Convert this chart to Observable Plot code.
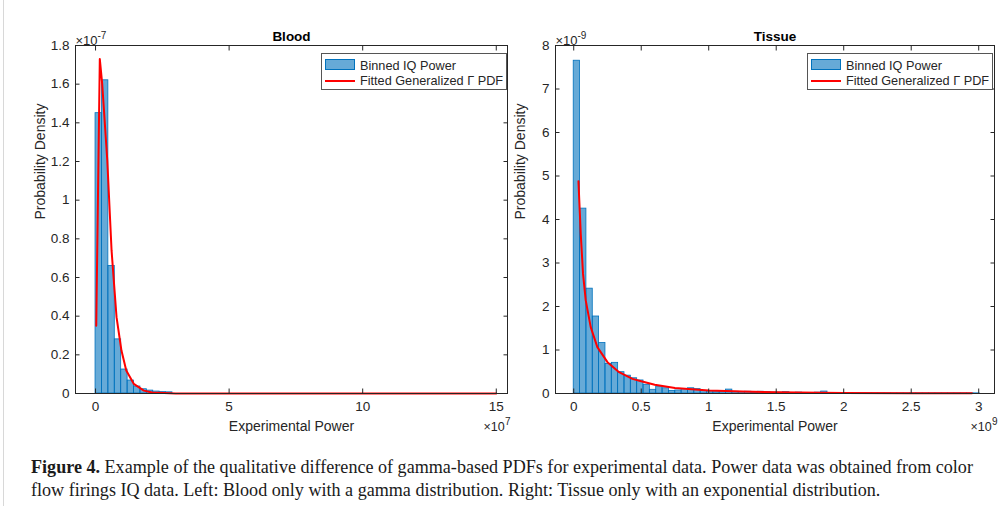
<!DOCTYPE html>
<html><head><meta charset="utf-8">
<script src="https://cdn.jsdelivr.net/npm/d3@7"></script>
<script src="https://cdn.jsdelivr.net/npm/@observablehq/plot@0.6"></script>
<style>
html,body{margin:0;padding:0;background:#fff;}
body{width:1007px;height:506px;overflow:hidden;position:relative;font-family:"Liberation Sans",Arial,sans-serif;}
#left{position:absolute;left:0;top:0;}
#right{position:absolute;left:480px;top:0;}
#border{position:absolute;left:3px;top:0;width:1px;height:506px;background:#d8d8d8;}
.legend{position:absolute;top:53px;width:184px;height:35px;border:1px solid #555;background:#fff;font-size:12.7px;color:#262626;}
.legend .row{position:absolute;left:3px;height:14px;}
.legend .sw{position:absolute;left:0;width:30px;}
.legend .lab{position:absolute;left:35px;white-space:nowrap;line-height:14px;}
#caption{position:absolute;left:31px;top:456px;width:975px;font-family:"Liberation Serif","Times New Roman",serif;font-size:18.1px;line-height:22.5px;color:#1a1a1a;white-space:nowrap;}
</style>
</head><body>
<div id="border"></div>
<div id="left"></div>
<div id="right"></div>
<div class="legend" style="left:321px;">
  <div class="row" style="top:5px;"><div class="sw" style="top:0;height:11px;background:rgba(0,114,189,0.6);border:1px solid #0072bd;box-sizing:border-box;"></div><div class="lab">Binned IQ Power</div></div>
  <div class="row" style="top:20px;"><div class="sw" style="top:6px;height:2px;background:#ff0000;"></div><div class="lab">Fitted Generalized Γ PDF</div></div>
</div>
<div class="legend" style="left:807px;">
  <div class="row" style="top:5px;"><div class="sw" style="top:0;height:11px;background:rgba(0,114,189,0.6);border:1px solid #0072bd;box-sizing:border-box;"></div><div class="lab">Binned IQ Power</div></div>
  <div class="row" style="top:20px;"><div class="sw" style="top:6px;height:2px;background:#ff0000;"></div><div class="lab">Fitted Generalized Γ PDF</div></div>
</div>
<div id="caption"><b>Figure 4.</b> Example of the qualitative difference of gamma-based PDFs for experimental data. Power data was obtained from color<br>flow firings IQ data. Left: Blood only with a gamma distribution. Right: Tissue only with an exponential distribution.</div>
<script>
// ---- Blood panel data (x in units of 1e7, density in units of 1e-7) ----
const bloodBinWidth = 0.24;
const bloodDensity = [1.45, 1.62, 0.66, 0.28, 0.124, 0.067, 0.036, 0.022, 0.015, 0.010, 0.007, 0.006];
const bloodFitX = [0.026, 0.16, 0.25, 0.44, 0.6, 0.786, 0.97, 1.15, 1.43, 1.81, 2.12, 3, 15];
const bloodFitY = [0.35, 1.73, 1.6, 1.205, 0.74, 0.395, 0.222, 0.119, 0.05, 0.015, 0.005, 0.0005, 0];
const bloodXTicks = [0, 5, 10, 15];
const bloodYTicks = [0, 0.2, 0.4, 0.6, 0.8, 1, 1.2, 1.4, 1.6, 1.8];

// ---- Tissue panel data (x in units of 1e9, density in units of 1e-9) ----
const tissueBinWidth = 0.047;
const tissueDensity = [7.65, 4.25, 2.41, 1.77, 1.16, 0.68, 0.705, 0.49, 0.41, 0.35,
  0.30, 0.20, 0.085, 0.16, 0.12, 0.06, 0.07, 0.10, 0.12, 0.10,
  0.055, 0.05, 0.03, 0.04, 0.09, 0.04, 0.03, 0.04, 0.02, 0.04,
  0.03, 0.02, 0.02, 0.03, 0.01, 0.02, 0.01, 0.01, 0.02, 0.045,
  0.01, 0.008, 0.006, 0.005, 0.005, 0.004, 0.004, 0.003, 0.003, 0.003,
  0.002, 0.002, 0.002, 0.002, 0.002, 0.002, 0.002, 0.002, 0.002, 0.002,
  0.002, 0.002, 0.002, 0.003];
const tissueFitX = [0.035, 0.052, 0.069, 0.089, 0.126, 0.175, 0.25, 0.336, 0.435, 0.5, 0.6, 0.75, 1.0, 1.25, 1.5, 2.0, 2.5, 2.95];
const tissueFitY = [4.88, 3.67, 2.75, 2.14, 1.525, 1.065, 0.72, 0.49, 0.337, 0.28, 0.2, 0.125, 0.07, 0.045, 0.03, 0.014, 0.007, 0.004];
const tissueXTicks = [0, 0.5, 1, 1.5, 2, 2.5, 3];
const tissueYTicks = [0, 1, 2, 3, 4, 5, 6, 7, 8];

const axisColor = "#262626";
const fmt = d => String(d);

function panel({title, binWidth, density, fitX, fitY, xTicks, yTicks, xDomain, yDomain, topExp, botExp, width, frameWidth}) {
  const bins = density.map((d, i) => ({x1: i * binWidth, x2: (i + 1) * binWidth, d}));
  const fit = fitX.map((x, i) => ({x, y: fitY[i]}));
  return Plot.plot({
    width, height: 440,
    marginLeft: 75, marginRight: width - 75 - frameWidth, marginTop: 45, marginBottom: 47,
    style: {fontFamily: "'Liberation Sans', Arial, sans-serif", fontSize: "13.5px", color: axisColor, background: "transparent", overflow: "visible"},
    x: {domain: xDomain, label: null},
    y: {domain: yDomain, label: null},
    marks: [
      Plot.rectY(bins, {x1: "x1", x2: "x2", y1: 0, y2: "d", fill: "#0072bd", fillOpacity: 0.6, stroke: "#0072bd", strokeWidth: 0.8}),
      Plot.line(fit, {x: "x", y: "y", stroke: "#ff0000", strokeWidth: 2}),
      Plot.frame({stroke: axisColor, strokeWidth: 1}),
      Plot.axisX(xTicks, {anchor: "bottom", tickSize: 0, tickPadding: 8, tickFormat: fmt, fontSize: 13.5, label: null, fill: axisColor}),
      Plot.axisX(xTicks, {anchor: "bottom", tickSize: -4.5, tickFormat: () => "", label: null, stroke: axisColor}),
      Plot.axisX(xTicks, {anchor: "top", tickSize: -4.5, tickFormat: () => "", label: null, stroke: axisColor}),
      Plot.axisY(yTicks, {anchor: "left", tickSize: 0, tickPadding: 6, tickFormat: fmt, fontSize: 13.5, label: null, fill: axisColor}),
      Plot.axisY(yTicks, {anchor: "left", tickSize: -4.5, tickFormat: () => "", label: null, stroke: axisColor}),
      Plot.axisY(yTicks, {anchor: "right", tickSize: -4.5, tickFormat: () => "", label: null, stroke: axisColor}),
      Plot.text(["Experimental Power"], {text: d => d, frameAnchor: "bottom", lineAnchor: "middle", dy: 33, fontSize: 14, fill: axisColor}),
      Plot.text(["Probability Density"], {text: d => d, frameAnchor: "left", rotate: -90, lineAnchor: "middle", dx: -35, fontSize: 14, fill: axisColor}),
      Plot.text([title], {text: d => d, frameAnchor: "top", lineAnchor: "bottom", dy: -5, fontWeight: "bold", fontSize: 13.5, fill: "#000"}),
      // top-left exponent: "×10" + raised superscript
      Plot.text(["×10"], {text: d => d, frameAnchor: "top-left", textAnchor: "start", lineAnchor: "bottom", dy: -1, fontSize: 13, fill: axisColor}),
      Plot.text([topExp], {text: d => d, frameAnchor: "top-left", textAnchor: "start", lineAnchor: "bottom", dx: 22, dy: -7, fontSize: 10, fill: axisColor}),
      // bottom-right exponent
      Plot.text(["×10"], {text: d => d, frameAnchor: "bottom-right", textAnchor: "start", lineAnchor: "top", dx: -24, dy: 29, fontSize: 12.5, fill: axisColor}),
      Plot.text([botExp], {text: d => d, frameAnchor: "bottom-right", textAnchor: "start", lineAnchor: "top", dx: -2.5, dy: 24, fontSize: 10, fill: axisColor})
    ]
  });
}

document.getElementById("left").append(panel({
  title: "Blood", binWidth: bloodBinWidth, density: bloodDensity, fitX: bloodFitX, fitY: bloodFitY,
  xTicks: bloodXTicks, yTicks: bloodYTicks, xDomain: [-0.75, 15.42], yDomain: [0, 1.8],
  topExp: "-7", botExp: "7", width: 515, frameWidth: 432
}));
document.getElementById("right").append(panel({
  title: "Tissue", binWidth: tissueBinWidth, density: tissueDensity, fitX: tissueFitX, fitY: tissueFitY,
  xTicks: tissueXTicks, yTicks: tissueYTicks, xDomain: [-0.135, 3.117], yDomain: [0, 8],
  topExp: "-9", botExp: "9", width: 527, frameWidth: 439
}));
</script>
</body></html>
